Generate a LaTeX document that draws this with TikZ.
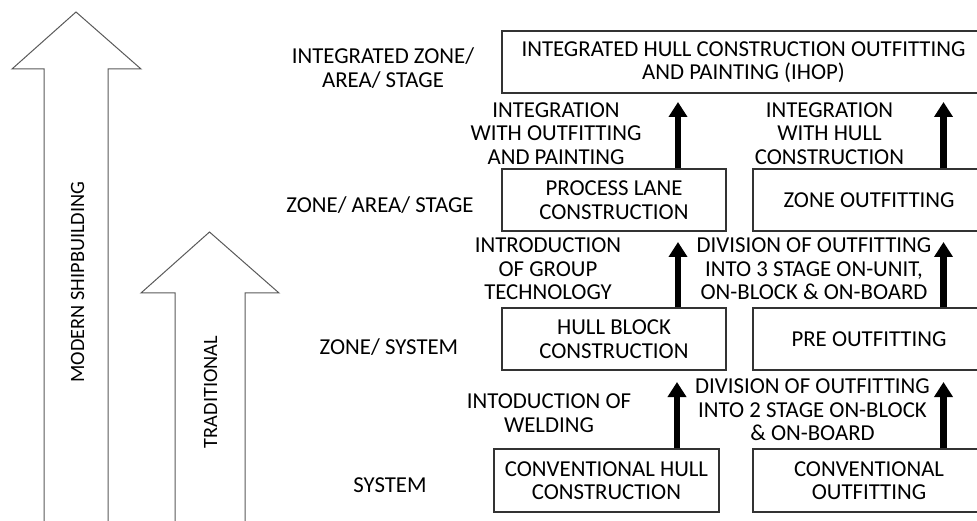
\documentclass[tikz,border=0pt]{standalone}
\usepackage{fontspec}
\setmainfont{Carlito}
\usetikzlibrary{arrows.meta}
\begin{document}
\begin{tikzpicture}[x=1pt,y=-1pt,
  lbl/.style={align=center, inner sep=0pt, font=\fontsize{22.8}{23.5}\selectfont, text=black},
  box/.style={lbl, draw=black!80, line width=1.2pt},
  bigarr/.style={draw=black!65, line width=1pt, line join=miter},
  up/.style={line width=6.5pt, -{Triangle[width=18pt,length=15pt]}}]
\useasboundingbox (0,0) rectangle (977,521);
\clip (0,0) rectangle (977,521);
% big hollow arrows
\draw[bigarr] (44,530) -- (44,69) -- (12,69) -- (76,12) -- (141,69) -- (108,69) -- (108,530);
\draw[bigarr] (175,530) -- (175,293) -- (141,293) -- (209.5,232) -- (279,293) -- (245,293) -- (245,530);
\node[lbl, rotate=90, font=\fontsize{20.3}{23.5}\selectfont] (modern) at (77.5,282) {MODERN SHIPBUILDING};
\node[lbl, rotate=90, font=\fontsize{20.3}{23.5}\selectfont] (trad) at (210.5,392) {TRADITIONAL};
% level labels
\node[lbl] (l4) at (383,68) {INTEGRATED ZONE/\\AREA/ STAGE};
\node[lbl] (l3) at (380,205.5) {ZONE/ AREA/ STAGE};
\node[lbl] (l2) at (389,347.5) {ZONE/ SYSTEM};
\node[lbl] (l1) at (390,485.5) {SYSTEM};
% boxes
\node[box, minimum width=483pt, minimum height=62pt] (ihop) at (743.5,62) {INTEGRATED HULL CONSTRUCTION OUTFITTING\\AND PAINTING (IHOP)};
\node[box, minimum width=224pt, minimum height=62pt] (pl) at (614,200) {PROCESS LANE\\CONSTRUCTION};
\node[box, minimum width=232pt, minimum height=62pt] (zo) at (869,200) {ZONE OUTFITTING};
\node[box, minimum width=224pt, minimum height=62pt] (hb) at (614,339) {HULL BLOCK\\CONSTRUCTION};
\node[box, minimum width=232pt, minimum height=62pt] (po) at (869,339) {PRE OUTFITTING};
\node[box, minimum width=225pt, minimum height=63pt] (ch) at (606.5,480.5) {CONVENTIONAL HULL\\CONSTRUCTION};
\node[box, minimum width=232pt, minimum height=63pt] (co) at (869,480.5) {CONVENTIONAL\\OUTFITTING};
% transition labels
\node[lbl] (t3a) at (556,133.5) {INTEGRATION\\WITH OUTFITTING\\AND PAINTING};
\node[lbl] (t3b) at (829.5,133.5) {INTEGRATION\\WITH HULL\\CONSTRUCTION};
\node[lbl] (t2a) at (548,269) {INTRODUCTION\\OF GROUP\\TECHNOLOGY};
\node[lbl] (t2b) at (814,269) {DIVISION OF OUTFITTING\\INTO 3 STAGE ON-UNIT,\\ON-BLOCK \& ON-BOARD};
\node[lbl] (t1a) at (549,413) {INTODUCTION OF\\WELDING};
\node[lbl] (t1b) at (812.5,410) {DIVISION OF OUTFITTING\\INTO 2 STAGE ON-BLOCK\\\& ON-BOARD};
% arrow tips
\coordinate (a3l) at (678,102);
\coordinate (a3r) at (943.5,102);
\coordinate (a2l) at (678,242);
\coordinate (a2r) at (943.5,242);
\coordinate (a1l) at (677,382);
\coordinate (a1r) at (943.5,382);
\draw[up] (pl.north -| a3l) -- (a3l);
\draw[up] (zo.north -| a3r) -- (a3r);
\draw[up] (hb.north -| a2l) -- (a2l);
\draw[up] (po.north -| a2r) -- (a2r);
\draw[up] (ch.north -| a1l) -- (a1l);
\draw[up] (co.north -| a1r) -- (a1r);
\end{tikzpicture}
\end{document}
